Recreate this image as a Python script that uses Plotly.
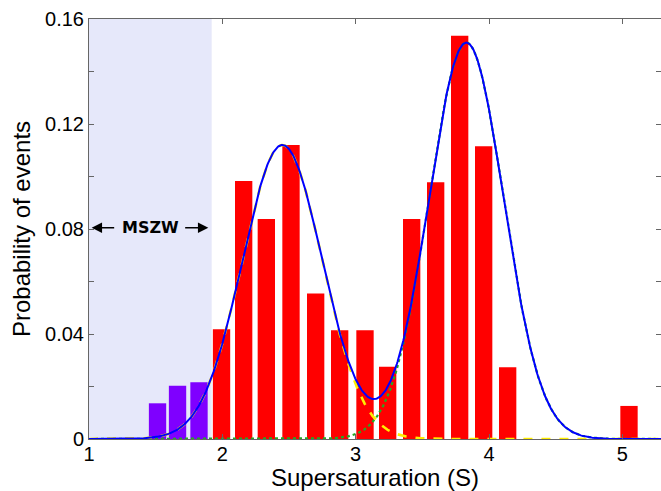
import numpy as np
import plotly.graph_objects as go

# Histogram of nucleation events vs. supersaturation
below_x = [1.514, 1.664, 1.825]
below_p = [0.0136, 0.0203, 0.0216]
above_x = [1.994, 2.16, 2.33, 2.515, 2.70, 2.88, 3.07, 3.24, 3.42, 3.60, 3.78, 3.96, 4.14, 5.05]
above_p = [0.0418, 0.0983, 0.0838, 0.1120, 0.0554, 0.0414, 0.0414, 0.0275, 0.0838, 0.0978,
           0.1536, 0.1115, 0.0273, 0.0126]
bar_width = 0.13

# Two-component Gaussian fit: (amplitude, mean, sigma)
fit_amp = [0.112, 0.151]
fit_mean = [2.45, 3.83]
fit_sigma = [0.30, 0.28]

# Metastable zone width
mszw_start, mszw_end = 1.0, 1.92

s = np.linspace(1.0, 5.29, 800)
comps = [a * np.exp(-(s - m) ** 2 / (2 * sg ** 2)) for a, m, sg in zip(fit_amp, fit_mean, fit_sigma)]
total = comps[0] + comps[1]

fig = go.Figure()
fig.add_trace(go.Bar(x=below_x, y=below_p, width=bar_width, marker=dict(color="#7f00ff", line=dict(width=0))))
fig.add_trace(go.Bar(x=above_x, y=above_p, width=bar_width, marker=dict(color="#ff0000", line=dict(width=0))))
fig.add_trace(go.Scatter(x=s, y=comps[1], mode="lines", line=dict(color="#22aa22", width=2.2, dash="dot")))
fig.add_trace(go.Scatter(x=s, y=comps[0], mode="lines", line=dict(color="#ffee00", width=2.6, dash="dash")))
fig.add_trace(go.Scatter(x=s, y=total, mode="lines", line=dict(color="#0000ff", width=2)))

fig.add_shape(type="rect", xref="x", yref="y", x0=mszw_start, x1=mszw_end, y0=0, y1=0.16,
              fillcolor="rgb(230,232,250)", line=dict(width=0), layer="below")

y_arrow = 0.0805
fig.add_annotation(x=1.461, y=y_arrow, text="<b>MSZW</b>", showarrow=False,
                   font=dict(family="DejaVu Sans", size=16, color="black"))
for head, tail in [(1.02, 1.20), (1.895, 1.71)]:
    fig.add_annotation(x=head, y=y_arrow, ax=tail, ay=y_arrow, xref="x", yref="y",
                       axref="x", ayref="y", text="", showarrow=True, arrowhead=2,
                       arrowsize=1.3, arrowwidth=1.6, arrowcolor="black")

axis_common = dict(showline=True, linecolor="#666666", linewidth=1, ticks="inside",
                   tickcolor="#666666", ticklen=5, mirror="ticks", showgrid=False, zeroline=False,
                   tickfont=dict(family="Liberation Sans", size=20, color="black"))

fig.update_xaxes(range=[1, 5.29], tickvals=[1, 2, 3, 4, 5], ticktext=["1", "2", "3", "4", "5"],
                 ticklabelstandoff=-3,
                 title=dict(text="Supersaturation (S)", font=dict(family="Liberation Sans", size=24, color="black"),
                            standoff=8),
                 **axis_common)
fig.update_yaxes(range=[0, 0.16], tickvals=[0, 0.04, 0.08, 0.12, 0.16],
                 ticktext=["0", "0.04", "0.08", "0.12", "0.16"],
                 minor=dict(tickvals=[0.02, 0.06, 0.10, 0.14], ticks="inside", ticklen=5, tickcolor="#666666"),
                 title=dict(text="Probability of events", font=dict(family="Liberation Sans", size=24, color="black"),
                            standoff=7),
                 **axis_common)

fig.update_layout(width=661, height=491, margin=dict(l=89, r=0, t=19, b=52),
                  plot_bgcolor="white", paper_bgcolor="white", showlegend=False, barmode="overlay")

fig.write_html("out.html")
